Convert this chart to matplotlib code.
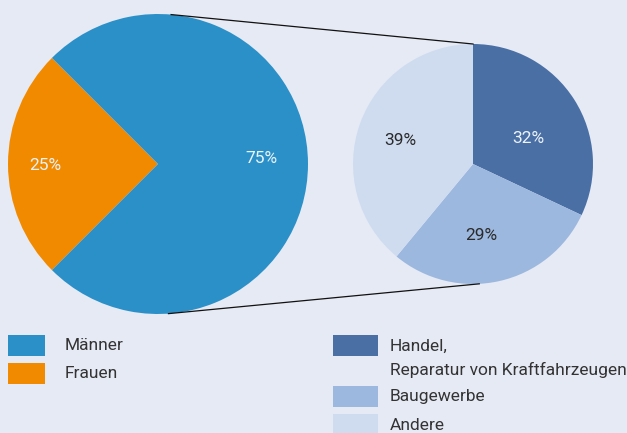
import numpy as np
import matplotlib
matplotlib.use("Agg")
import matplotlib.pyplot as plt
from matplotlib.patches import Rectangle

plt.rcParams['font.family'] = ['Roboto', 'DejaVu Sans']

# Geschlecht
gender_labels = ["Frauen", "Männer"]
gender_values = [25, 75]
gender_colors = ["#f28a00", "#2b90c8"]

# Branchen (Männer)
branch_labels = ["Handel,\nReparatur von Kraftfahrzeugen", "Baugewerbe", "Andere"]
branch_values = [32, 29, 39]
branch_colors = ["#4a6fa5", "#9db8de", "#cfdcf0"]
branch_text_colors = ["#eef3fa", "#2a2a2a", "#2a2a2a"]

bg = "#e6eaf5"
W, H = 627, 433

fig = plt.figure(figsize=(W / 100, H / 100), dpi=100, facecolor=bg)
ax = fig.add_axes([0, 0, 1, 1])
ax.set_facecolor(bg)

# linke Torte
c1, r1 = (158, H - 164), 150
wedges, texts = ax.pie(gender_values, colors=gender_colors, startangle=135,
                       center=c1, radius=r1, counterclock=True,
                       wedgeprops=dict(linewidth=0))
for w, v, d in zip(wedges, gender_values, [0.75, 0.69]):
    ang = np.deg2rad((w.theta1 + w.theta2) / 2)
    ax.text(c1[0] + d * r1 * np.cos(ang), c1[1] + d * r1 * np.sin(ang) + (-2 if v < 50 else 5),
            f"{v}%", ha="center", va="center", color="#eaf3fa", fontsize=12.5)

# rechte Torte
c2, r2 = (473, H - 164), 120
wedges2, _ = ax.pie(branch_values, colors=branch_colors, startangle=90,
                    center=c2, radius=r2, counterclock=False,
                    wedgeprops=dict(linewidth=0))
for w, v, tc, d, off in zip(wedges2, branch_values, branch_text_colors,
                            [0.51, 0.6, 0.64], [-8, -6, 2]):
    ang = np.deg2rad((w.theta1 + w.theta2) / 2 + off)
    ax.text(c2[0] + d * r2 * np.cos(ang), c2[1] + d * r2 * np.sin(ang), f"{v}%",
            ha="center", va="center", color=tc, fontsize=12.5)

# Verbindungslinien
for a1, a2 in [(85, 90), (-86, -87)]:
    p1 = (c1[0] + r1 * np.cos(np.deg2rad(a1)), c1[1] + r1 * np.sin(np.deg2rad(a1)))
    p2 = (c2[0] + r2 * np.cos(np.deg2rad(a2)), c2[1] + r2 * np.sin(np.deg2rad(a2)))
    ax.plot([p1[0], p2[0]], [p1[1], p2[1]], color="#111111", lw=0.9)

ax.set_xlim(0, W)
ax.set_ylim(0, H)
ax.set_aspect("equal")
ax.axis("off")

# Legende links
left_items = [("Männer", gender_colors[1]), ("Frauen", gender_colors[0])]
for i, (lab, col) in enumerate(left_items):
    top = 335 + i * 28
    ax.add_patch(Rectangle((8, H - top - 21), 37, 21, color=col, lw=0))
    ax.text(65, H - top - 11, lab, ha="left", va="center", fontsize=12.5,
            color="#333333")

# Legende rechts
tops = [335, 386, 414]
for top, lab, col in zip(tops, branch_labels, branch_colors):
    ax.add_patch(Rectangle((333, H - top - 21), 45, 21, color=col, lw=0))
    lines = lab.split("\n")
    for j, ln in enumerate(lines):
        ax.text(390, H - top - 11 - j * 24, ln, ha="left", va="center", fontsize=12.5,
                color="#333333")

fig.savefig("out.png", dpi=100, facecolor=bg)
